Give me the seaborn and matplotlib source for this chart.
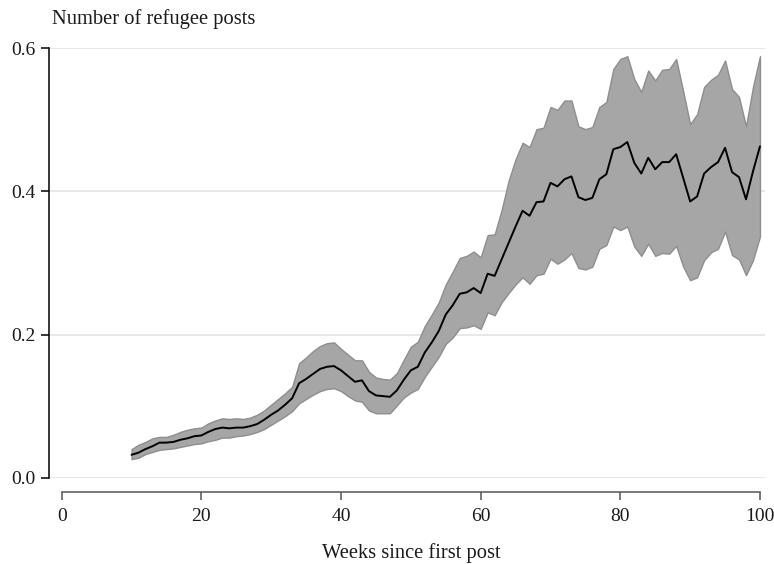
import matplotlib
matplotlib.use("Agg")
import matplotlib.pyplot as plt
import numpy as np
import pandas as pd
import seaborn as sns

# Weekly average number of refugee posts with its confidence band
weeks = list(range(10, 101))

mean_posts = [
    0.032, 0.035, 0.040, 0.044, 0.049, 0.049, 0.050, 0.053, 0.055, 0.058,  # 10-19
    0.059, 0.064, 0.068, 0.070, 0.069, 0.070, 0.070, 0.072, 0.075, 0.081,  # 20-29
    0.088, 0.094, 0.102, 0.111, 0.132, 0.138, 0.145, 0.152, 0.155, 0.156,  # 30-39
    0.150, 0.142, 0.134, 0.136, 0.121, 0.115, 0.114, 0.113, 0.122, 0.137,  # 40-49
    0.150, 0.155, 0.175, 0.189, 0.205, 0.228, 0.241, 0.257, 0.259, 0.265,  # 50-59
    0.258, 0.285, 0.282, 0.305, 0.328, 0.351, 0.373, 0.366, 0.385, 0.386,  # 60-69
    0.412, 0.407, 0.417, 0.421, 0.392, 0.388, 0.391, 0.417, 0.424, 0.459,  # 70-79
    0.462, 0.469, 0.440, 0.425, 0.447, 0.431, 0.441, 0.441, 0.452, 0.419,  # 80-89
    0.386, 0.393, 0.425, 0.434, 0.441, 0.461, 0.427, 0.420, 0.389, 0.428,  # 90-99
    0.463,                                                                  # 100
]

upper_band = [
    0.040, 0.046, 0.050, 0.055, 0.057, 0.057, 0.060, 0.064, 0.067, 0.069,
    0.070, 0.076, 0.080, 0.083, 0.082, 0.083, 0.082, 0.084, 0.088, 0.094,
    0.102, 0.110, 0.118, 0.127, 0.160, 0.168, 0.177, 0.184, 0.188, 0.189,
    0.180, 0.172, 0.164, 0.164, 0.148, 0.140, 0.138, 0.137, 0.146, 0.165,
    0.183, 0.190, 0.212, 0.228, 0.245, 0.270, 0.288, 0.307, 0.310, 0.316,
    0.308, 0.339, 0.340, 0.374, 0.415, 0.445, 0.468, 0.462, 0.487, 0.489,
    0.518, 0.514, 0.527, 0.527, 0.491, 0.487, 0.490, 0.518, 0.525, 0.571,
    0.585, 0.589, 0.557, 0.539, 0.569, 0.555, 0.570, 0.571, 0.585, 0.540,
    0.494, 0.508, 0.546, 0.556, 0.563, 0.583, 0.543, 0.532, 0.491, 0.546,
    0.589,
]

lower_band = [
    0.026, 0.028, 0.033, 0.036, 0.039, 0.040, 0.041, 0.043, 0.045, 0.047,
    0.048, 0.051, 0.053, 0.056, 0.056, 0.058, 0.059, 0.061, 0.064, 0.068,
    0.074, 0.080, 0.086, 0.093, 0.104, 0.110, 0.116, 0.121, 0.124, 0.125,
    0.121, 0.114, 0.108, 0.106, 0.094, 0.090, 0.090, 0.090, 0.101, 0.112,
    0.119, 0.124, 0.141, 0.155, 0.169, 0.187, 0.196, 0.209, 0.210, 0.213,
    0.208, 0.231, 0.227, 0.245, 0.258, 0.270, 0.280, 0.271, 0.283, 0.285,
    0.306, 0.299, 0.305, 0.314, 0.293, 0.291, 0.295, 0.320, 0.325, 0.351,
    0.346, 0.351, 0.323, 0.310, 0.327, 0.310, 0.314, 0.313, 0.324, 0.295,
    0.276, 0.280, 0.304, 0.315, 0.320, 0.344, 0.311, 0.305, 0.283, 0.304,
    0.337,
]

x_ticks = [0, 20, 40, 60, 80, 100]
y_ticks = [0.0, 0.2, 0.4, 0.6]
y_tick_labels = ["0.0", "0.2", "0.4", "0.6"]

df = pd.DataFrame({"week": weeks, "posts": mean_posts,
                   "lo": lower_band, "hi": upper_band})

sns.set_theme(style="white")
plt.rcParams["font.family"] = ["Liberation Serif", "DejaVu Serif"]
plt.rcParams["text.color"] = "#1a1a1a"

W, H = 774, 564
fig = plt.figure(figsize=(W / 100, H / 100), dpi=100)
ax = fig.add_axes([49 / W, 1 - 477.7 / H, (765 - 49) / W, (477.7 - 48.3) / H])

# confidence band
ax.fill_between(df["week"], df["lo"], df["hi"], facecolor="#a6a6a6",
                edgecolor="#8e8e8e", linewidth=1.0, zorder=2)
# mean line
sns.lineplot(data=df, x="week", y="posts", ax=ax, color="black",
             linewidth=1.4, zorder=3)

ax.set_xlim(-1.82, 100.72)
ax.set_ylim(0, 0.6)

ax.set_yticks(y_ticks)
ax.set_yticklabels(y_tick_labels)
ax.set_xticks(x_ticks)

ax.yaxis.grid(True, color="#e6e6e6", linewidth=1.3, zorder=0)
ax.xaxis.grid(False)
ax.set_axisbelow(True)

for side in ("top", "right"):
    ax.spines[side].set_visible(False)
ax.spines["left"].set_color("black")
ax.spines["left"].set_linewidth(1.1)
ax.spines["left"].set_bounds(0, 0.6)
ax.spines["bottom"].set_color("#555555")
ax.spines["bottom"].set_linewidth(1.1)
ax.spines["bottom"].set_bounds(0, 100)
ax.spines["bottom"].set_position(("outward", 10))

ax.tick_params(axis="y", left=True, length=6, width=1.1, color="black",
               pad=3.5, labelsize=14, labelcolor="#1a1a1a")
ax.tick_params(axis="x", bottom=True, length=6, width=1.1, color="#555555",
               pad=6, labelsize=14, labelcolor="#1a1a1a")

ax.set_ylabel("")
ax.set_xlabel("")
fig.text(411 / W, 1 - 553 / H, "Weeks since first post", fontsize=14.8,
         ha="center", va="center")
fig.text(52 / W, 1 - 19 / H, "Number of refugee posts", fontsize=14.8,
         ha="left", va="center")

fig.savefig("out.png", dpi=100)
